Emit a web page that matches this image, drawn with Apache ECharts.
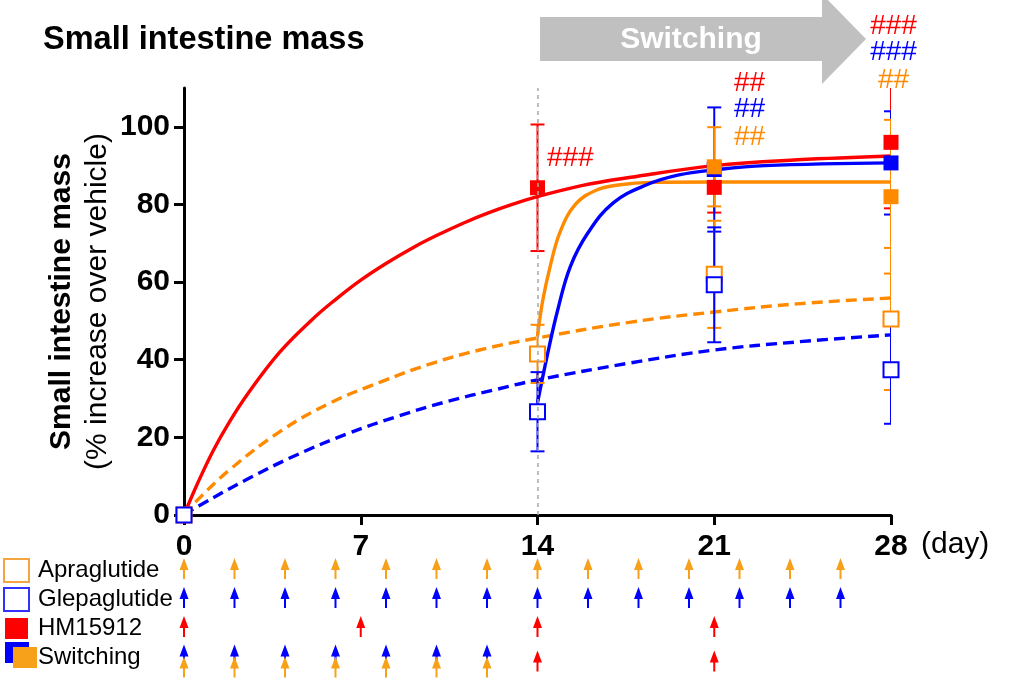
<!DOCTYPE html>
<html>
<head>
<meta charset="utf-8">
<title>Small intestine mass</title>
<script src="https://cdn.jsdelivr.net/npm/echarts@6.0.0/dist/echarts.min.js"></script>
<style>
    html, body { margin: 0; padding: 0; background: #fff; }
    #chart { width: 1010px; height: 683px; }
</style>
</head>
<body>
<div id="chart"></div>
<script>
// axis ticks
var dayTicks = [0, 7, 14, 21, 28];
var yTicks = [0, 20, 40, 60, 80, 100];
var switchDay = 14;

// measured groups: mean and +/- error
var apraDays = [0, 14, 21, 28];
var apraMean = [0, 41.5, 62, 50.5];
var apraErr = [0, 7.5, 13.8, 18.3];

var glepDays = [0, 14, 21, 28];
var glepMean = [0, 26.6, 59.3, 37.4];
var glepErr = [0, 10.2, 14.8, 13.9];

var hmDays = [14, 21, 28];
var hmMean = [84.3, 84.4, 96];
var hmErr = [16.3, 6.5, 17];

var swGlepDays = [21, 28];
var swGlepMean = [89, 90.7];
var swGlepErr = [16, 13.3];

var swApraDays = [21, 28];
var swApraMean = [89.7, 82];
var swApraErr = [10.2, 19.8];

// fitted curves
var hmFitDays = [0, 0.5, 1.15, 1.8, 2.5, 3.8, 5.1, 6, 7, 8, 9.1, 10, 11.1, 12, 13, 14, 15.7, 17.7, 21, 24.3, 28];
var hmFitVals = [0, 7.6, 16.5, 24, 31, 42, 50.5, 55.5, 60.5, 64.8, 69, 72, 75.3, 77.7, 80, 82, 84.8, 87, 90, 91.5, 92.5];

var apraFitDays = [0, 0.4, 1.8, 3.8, 5.8, 7.8, 9.7, 11.7, 14, 17.7, 21, 24.3, 28];
var apraFitVals = [0, 3, 11.6, 21.5, 28.9, 34.3, 38.8, 42.5, 45.6, 49.7, 52.3, 54.4, 55.9];

var glepFitDays = [0, 0.6, 2.5, 4.5, 6.5, 8.4, 10.4, 12.4, 14, 17.7, 21, 24.3, 28];
var glepFitVals = [0, 2.4, 9.2, 15.6, 21, 25.3, 29.2, 32.4, 34.8, 39.2, 42.5, 44.6, 46.4];

var swApraFitDays = [14, 14.2, 14.5, 14.9, 15.5, 16.3, 17.2, 18.5, 21, 28];
var swApraFitVals = [46, 55, 64, 73, 80, 83.6, 85, 85.7, 85.8, 85.8];

var swGlepFitDays = [14, 14.4, 14.8, 15.3, 16, 17, 18.3, 19.6, 21, 23, 28];
var swGlepFitVals = [28.9, 41.5, 52.8, 64, 72.7, 80.4, 85, 87.6, 88.9, 90, 90.7];

// significance marks
var sigDays = [15.3, 22.4, 22.4, 22.4, 28.1, 28.1, 28.1];
var sigVals = [92, 111.3, 104.4, 97.3, 125.8, 119.2, 111.9];
var sigText = ['###', '##', '##', '##', '###', '###', '##'];
var sigGroup = ['hm', 'hm', 'glep', 'apra', 'hm', 'glep', 'apra'];

// dosing schedule (days with an arrow)
var groups = ['Apraglutide', 'Glepaglutide', 'HM15912', 'Switching'];
var apraDoseDays = [0, 2, 4, 6, 8, 10, 12, 14, 16, 18, 20, 22, 24, 26];
var glepDoseDays = [0, 2, 4, 6, 8, 10, 12, 14, 16, 18, 20, 22, 24, 26];
var hmDoseDays = [0, 7, 14, 21];
var swPairDoseDays = [0, 2, 4, 6, 8, 10, 12];
var swHmDoseDays = [14, 21];

var fontFamily = "'Liberation Sans', Arial, sans-serif";
var colors = { apra: '#ff8a00', glep: '#0000ff', hm: '#ff0000' };
var arrowOrange = '#f7a11a';
var arrowPath = 'path://M4.5,0 L9,12 L5.5,12 L5.5,21 L3.5,21 L3.5,12 L0,12 Z';

function pairs(xs, ys) {
    var out = [];
    for (var i = 0; i < xs.length; i++) {
        out.push([xs[i], ys[i]]);
    }
    return out;
}

function errorData(xs, mean, err) {
    var out = [];
    for (var i = 0; i < xs.length; i++) {
        if (err[i] > 0) {
            out.push([xs[i], mean[i] - err[i], mean[i] + err[i]]);
        }
    }
    return out;
}

//误差线: 竖线加上下两个短横
function renderErrorBar(params, api) {
    var hi = api.coord([api.value(0), api.value(2)]);
    var lo = api.coord([api.value(0), api.value(1)]);
    var half = 7;
    var style = { stroke: api.visual('color'), lineWidth: 2, fill: null };
    return {
        type: 'group',
        children: [
            { type: 'line', shape: { x1: hi[0], y1: hi[1], x2: lo[0], y2: lo[1] }, style: style },
            { type: 'line', shape: { x1: hi[0] - half, y1: hi[1], x2: hi[0] + half, y2: hi[1] }, style: style },
            { type: 'line', shape: { x1: lo[0] - half, y1: lo[1], x2: lo[0] + half, y2: lo[1] }, style: style }
        ]
    };
}

function fitLine(xs, ys, color, dashed) {
    return {
        type: 'line',
        data: pairs(xs, ys),
        showSymbol: false,
        symbol: 'none',
        smooth: 0.4,
        silent: true,
        z: 2,
        lineStyle: { color: color, width: 3.4, type: dashed ? [11, 6] : 'solid' }
    };
}

function errorSeries(xs, mean, err, color) {
    return {
        type: 'custom',
        renderItem: renderErrorBar,
        data: errorData(xs, mean, err),
        encode: { x: 0, y: [1, 2] },
        itemStyle: { color: color },
        clip: true,
        silent: true,
        z: 3
    };
}

function markerSeries(xs, mean, color, open) {
    return {
        type: 'scatter',
        symbol: 'rect',
        symbolSize: 15,
        data: pairs(xs, mean),
        silent: true,
        z: 4,
        itemStyle: open
            ? { color: '#fff', borderColor: color, borderWidth: 2, opacity: 1 }
            : { color: color, opacity: 1 }
    };
}

function doseSeries(days, row, color, offset) {
    var data = [];
    for (var i = 0; i < days.length; i++) {
        data.push([days[i], row]);
    }
    return {
        type: 'scatter',
        xAxisIndex: 1,
        yAxisIndex: 1,
        symbol: arrowPath,
        symbolSize: [9, 21],
        symbolOffset: [0, offset],
        data: data,
        silent: true,
        itemStyle: { color: color, opacity: 1 }
    };
}

function drawChart(domId) {
    var sigData = [];
    for (var i = 0; i < sigDays.length; i++) {
        sigData.push({
            value: [sigDays[i], sigVals[i]],
            label: { color: colors[sigGroup[i]] }
        });
    }

    var greyLine = fitLine(apraFitDays, apraFitVals, colors.apra, true);
    greyLine.markLine = {
        silent: true,
        symbol: ['none', 'none'],
        label: { show: false },
        lineStyle: { color: '#a8a8a8', width: 1.5, type: [4, 4] },
        data: [{ xAxis: switchDay }]
    };

    var option = {
        animation: false,
        textStyle: { fontFamily: fontFamily },
        title: {
            text: 'Small intestine mass',
            left: 38,
            top: 19,
            textStyle: { fontSize: 32.5, fontWeight: 'bold', color: '#000', fontFamily: fontFamily }
        },
        grid: [
            { left: 184, right: 119, top: 88, bottom: 168, outerBoundsMode: 'none' },
            { left: 184, right: 119, top: 556, bottom: 11, outerBoundsMode: 'none' }
        ],
        xAxis: [
            {
                type: 'value',
                gridIndex: 0,
                min: dayTicks[0],
                max: dayTicks[dayTicks.length - 1],
                interval: 7,
                splitLine: { show: false },
                axisLine: { lineStyle: { color: '#000', width: 3 } },
                axisTick: { length: 10, lineStyle: { color: '#000', width: 3 } },
                axisLabel: { fontSize: 30, fontWeight: 'bold', color: '#000', margin: 17, fontFamily: fontFamily },
                name: '(day)',
                nameLocation: 'end',
                nameGap: 30,
                nameTextStyle: { fontSize: 30, color: '#000', verticalAlign: 'top', padding: [15, 0, 0, 0], fontFamily: fontFamily }
            },
            {
                type: 'value',
                gridIndex: 1,
                min: 0,
                max: 28,
                show: false
            }
        ],
        yAxis: [
            {
                type: 'value',
                gridIndex: 0,
                min: 0,
                max: 110,
                interval: 20,
                splitLine: { show: false },
                axisLine: { show: true, lineStyle: { color: '#000', width: 3 } },
                axisTick: { show: true, length: 10, customValues: yTicks, lineStyle: { color: '#000', width: 3 } },
                axisLabel: { customValues: yTicks, fontSize: 30, fontWeight: 'bold', color: '#000', margin: 14, fontFamily: fontFamily },
                name: '{b|Small intestine mass}\n{n|(% increase over vehicle)}',
                nameLocation: 'middle',
                nameGap: 68,
                nameMoveOverlap: false,
                nameTextStyle: {
                    color: '#000',
                    rich: {
                        b: { fontSize: 30, fontWeight: 'bold', color: '#000', lineHeight: 36, fontFamily: fontFamily },
                        n: { fontSize: 30, color: '#000', lineHeight: 36, fontFamily: fontFamily }
                    }
                }
            },
            {
                type: 'category',
                gridIndex: 1,
                data: groups,
                inverse: true,
                axisLine: { show: false },
                axisTick: { show: false },
                splitLine: { show: false },
                axisLabel: {
                    align: 'left',
                    margin: 179,
                    formatter: function (value, index) {
                        var icons = ['{apra| }{gap| }', '{glep| }{gap| }', '{hm| }{gap| }', '{sp| }{sw| }{gap1| }'];
                        return icons[index] + '{t|' + value + '}';
                    },
                    rich: {
                        apra: { width: 23, height: 21, backgroundColor: '#fff', borderColor: '#f5a540', borderWidth: 2, verticalAlign: 'middle' },
                        glep: { width: 23, height: 21, backgroundColor: '#fff', borderColor: '#3030ff', borderWidth: 2, verticalAlign: 'middle' },
                        hm: { width: 23, height: 21, backgroundColor: '#ff0000', verticalAlign: 'middle' },
                        sp: { width: 8 },
                        sw: {
                            width: 24, height: 21, backgroundColor: arrowOrange, verticalAlign: 'middle',
                            shadowColor: '#0000ff', shadowBlur: 0, shadowOffsetX: -8, shadowOffsetY: -5
                        },
                        gap: { width: 10 },
                        gap1: { width: 1 },
                        t: { fontSize: 24, color: '#000', fontFamily: fontFamily, verticalAlign: 'middle' }
                    }
                }
            }
        ],
        graphic: [
            {
                type: 'polygon',
                shape: { points: [[540, 17], [822, 17], [822, -6], [866, 39], [822, 84], [822, 61], [540, 61]] },
                style: { fill: '#c0c0c0' },
                z: 1
            },
            {
                type: 'text',
                x: 691,
                y: 40,
                style: {
                    text: 'Switching',
                    fill: '#fff',
                    font: 'bold 30px ' + fontFamily,
                    textAlign: 'center',
                    textVerticalAlign: 'middle'
                },
                z: 2
            }
        ],
        series: [
            greyLine,
            fitLine(glepFitDays, glepFitVals, colors.glep, true),
            fitLine(hmFitDays, hmFitVals, colors.hm, false),
            fitLine(swApraFitDays, swApraFitVals, colors.apra, false),
            fitLine(swGlepFitDays, swGlepFitVals, colors.glep, false),

            errorSeries(hmDays, hmMean, hmErr, colors.hm),
            errorSeries(swGlepDays, swGlepMean, swGlepErr, colors.glep),
            errorSeries(swApraDays, swApraMean, swApraErr, colors.apra),
            errorSeries(apraDays, apraMean, apraErr, colors.apra),
            errorSeries(glepDays, glepMean, glepErr, colors.glep),

            markerSeries(hmDays, hmMean, colors.hm, false),
            markerSeries(swGlepDays, swGlepMean, colors.glep, false),
            markerSeries(swApraDays, swApraMean, colors.apra, false),
            markerSeries(apraDays, apraMean, colors.apra, true),
            markerSeries(glepDays, glepMean, colors.glep, true),

            {
                type: 'scatter',
                data: sigData,
                symbolSize: 2,
                clip: false,
                silent: true,
                z: 5,
                itemStyle: { color: 'rgba(0,0,0,0)', opacity: 1 },
                label: {
                    show: true,
                    position: 'inside',
                    fontSize: 28,
                    fontFamily: fontFamily,
                    formatter: function (p) { return sigText[p.dataIndex]; }
                }
            },

            doseSeries(apraDoseDays, groups[0], arrowOrange, -2),
            doseSeries(glepDoseDays, groups[1], colors.glep, -2),
            doseSeries(hmDoseDays, groups[2], colors.hm, -2),
            doseSeries(swPairDoseDays, groups[3], colors.glep, -2.5),
            doseSeries(swPairDoseDays, groups[3], arrowOrange, 9.5),
            doseSeries(swHmDoseDays, groups[3], colors.hm, 3.5)
        ]
    };

    var chart = echarts.init(document.getElementById(domId));
    chart.setOption(option);
}

drawChart('chart');
</script>
</body>
</html>
